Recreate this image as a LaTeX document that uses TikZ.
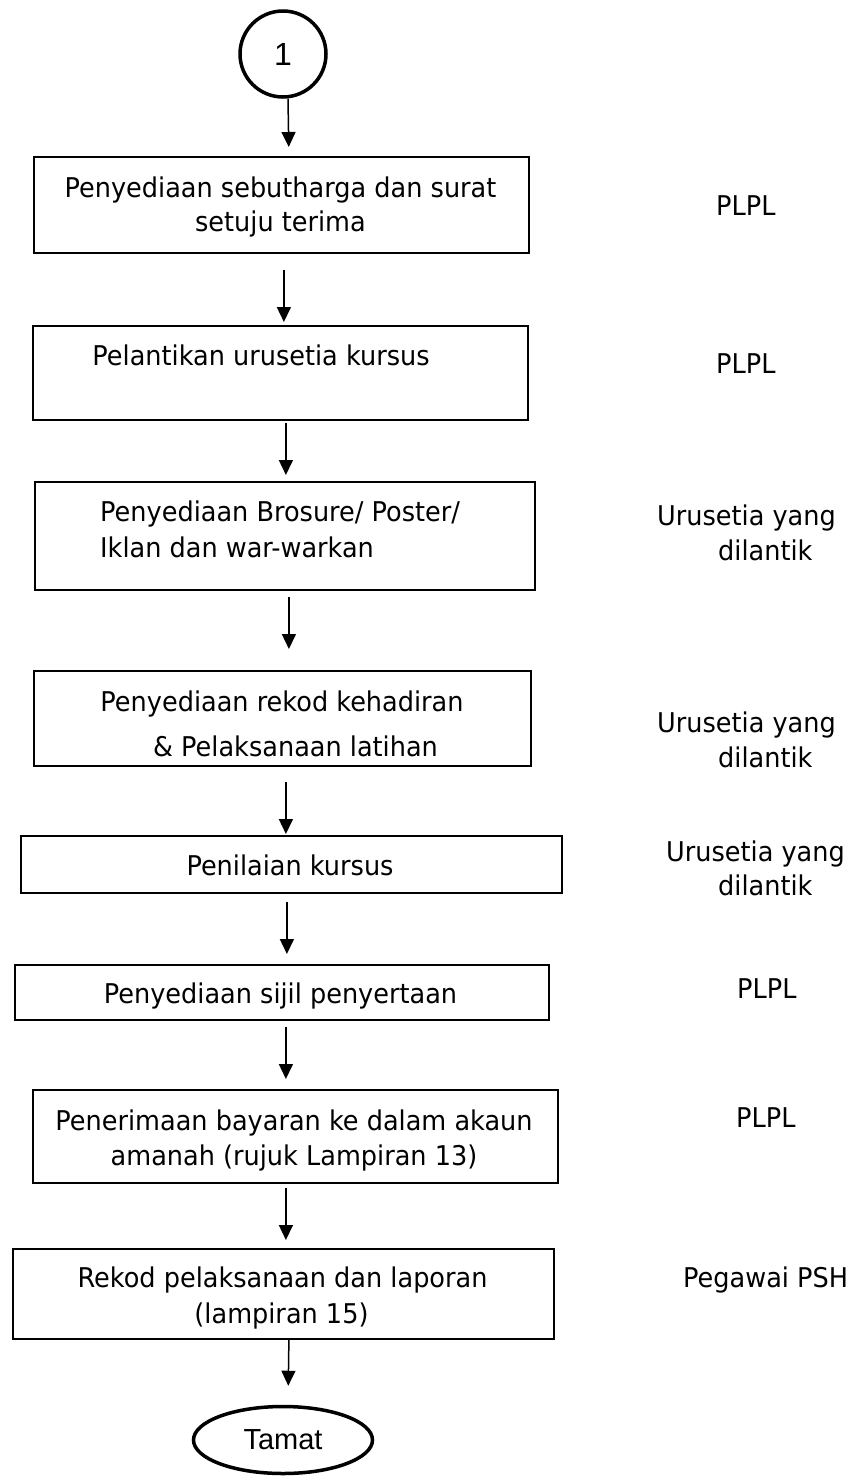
\documentclass[tikz,border=0pt]{standalone}
\usepackage{fontspec}
\setmainfont{DejaVu Sans}[FakeStretch=0.94]
\newfontfamily\arialf{Liberation Sans}
\usetikzlibrary{arrows.meta,shapes.geometric,calc}
\begin{document}
\begin{tikzpicture}[x=1pt,y=-1pt,
  box/.style={draw, line width=1.8pt, inner sep=0pt, anchor=north west},
  txt/.style={anchor=base, inner sep=0pt, font=\fontsize{27.2}{35}\selectfont},
  txtl/.style={anchor=base west, inner sep=0pt, font=\fontsize{27.2}{35}\selectfont},
  lab/.style={anchor=base west, inner sep=0pt, font=\fontsize{27.2}{35}\selectfont},
  arr/.style={-{Triangle[length=15pt,width=14pt]}, line width=1.5pt},
  term/.style={draw, line width=3.5pt, inner sep=0pt, font=\arialf\fontsize{29}{32}\selectfont}
]
\useasboundingbox (0,0) rectangle (863,1478);

% start connector
\node[term, circle, minimum size=86pt, font=\arialf\fontsize{32}{34}\selectfont] (c) at (283,54) {\raisebox{-4pt}{1}};

% boxes
\node[box, minimum width=495pt, minimum height=96pt]  (b1) at (33,156)  {};
\node[box, minimum width=495pt, minimum height=94pt]  (b2) at (32,325)  {};
\node[box, minimum width=500pt, minimum height=108pt] (b3) at (34,481)  {};
\node[box, minimum width=497pt, minimum height=95pt]  (b4) at (33,670)  {};
\node[box, minimum width=541pt, minimum height=57pt]  (b5) at (20,835)  {};
\node[box, minimum width=534pt, minimum height=55pt]  (b6) at (14,964)  {};
\node[box, minimum width=525pt, minimum height=93pt]  (b7) at (32,1089) {};
\node[box, minimum width=541pt, minimum height=90pt]  (b8) at (12,1248) {};

% end terminator
\node[term, ellipse, minimum width=179pt, minimum height=67pt] (e) at (283,1440) {Tamat};

% box texts
\node[txt] (t1a) at (280.5,197) {Penyediaan sebutharga dan surat};
\node[txt] (t1b) at (280.5,231) {setuju terima};
\node[txt] (t2a) at (261,365) {Pelantikan urusetia kursus};
\node[txtl] (t3a) at (100,521) {Penyediaan Brosure/ Poster/};
\node[txtl] (t3b) at (100,557) {Iklan dan war-warkan};
\node[txt] (t4a) at (282,711) {Penyediaan rekod kehadiran};
\node[txt] (t4b) at (295.5,756) {\& Pelaksanaan latihan};
\node[txt] (t5a) at (290,875) {Penilaian kursus};
\node[txt] (t6a) at (280.5,1003) {Penyediaan sijil penyertaan};
\node[txt] (t7a) at (294,1130) {Penerimaan bayaran ke dalam akaun};
\node[txt] (t7b) at (294,1165) {amanah (rujuk Lampiran 13)};
\node[txt] (t8a) at (282.5,1287) {Rekod pelaksanaan dan laporan};
\node[txt] (t8b) at (281.5,1323) {(lampiran 15)};

% responsibility labels
\node[lab] (r1)  at (716,215)  {PLPL};
\node[lab] (r2)  at (716,373)  {PLPL};
\node[lab] (r3a) at (657,525)  {Urusetia yang};
\node[lab] (r3b) at (718,560)  {dilantik};
\node[lab] (r4a) at (657,732)  {Urusetia yang};
\node[lab] (r4b) at (718,767)  {dilantik};
\node[lab] (r5a) at (666,861)  {Urusetia yang};
\node[lab] (r5b) at (718,895)  {dilantik};
\node[lab] (r6)  at (737,998)  {PLPL};
\node[lab] (r7)  at (736,1127) {PLPL};
\node[lab] (r8)  at (683,1287) {Pegawai PSH};

% connectors
\draw[arr, shorten >=9pt]                  ($(c.south)+(5,0)$)    -- ($(b1.north)+(7.5,0)$);
\draw[arr, shorten <=16pt, shorten >=3pt]  ($(b1.south)+(2.5,0)$) -- ($(b2.north)+(3.5,0)$);
\draw[arr, shorten <=2pt, shorten >=6pt]   ($(b2.south)+(5.5,0)$) -- ($(b3.north)+(1,0)$);
\draw[arr, shorten <=6pt, shorten >=21pt]  ($(b3.south)+(4,0)$)   -- ($(b4.north)+(6.5,0)$);
\draw[arr, shorten <=15pt, shorten >=1pt]  ($(b4.south)+(3.5,0)$) -- ($(b5.north)+(-5.5,0)$);
\draw[arr, shorten <=8pt, shorten >=10pt]  ($(b5.south)+(-4.5,0)$) -- ($(b6.north)+(5,0)$);
\draw[arr, shorten <=6pt, shorten >=10pt]  ($(b6.south)+(4,0)$)   -- ($(b7.north)+(-9.5,0)$);
\draw[arr, shorten <=4pt, shorten >=8pt]   ($(b7.south)+(-9.5,0)$) -- ($(b8.north)+(2.5,0)$);
\draw[arr, shorten >=19pt]                 ($(b8.south)+(5.5,0)$) -- ($(e.north)+(5,0)$);
\end{tikzpicture}
\end{document}
